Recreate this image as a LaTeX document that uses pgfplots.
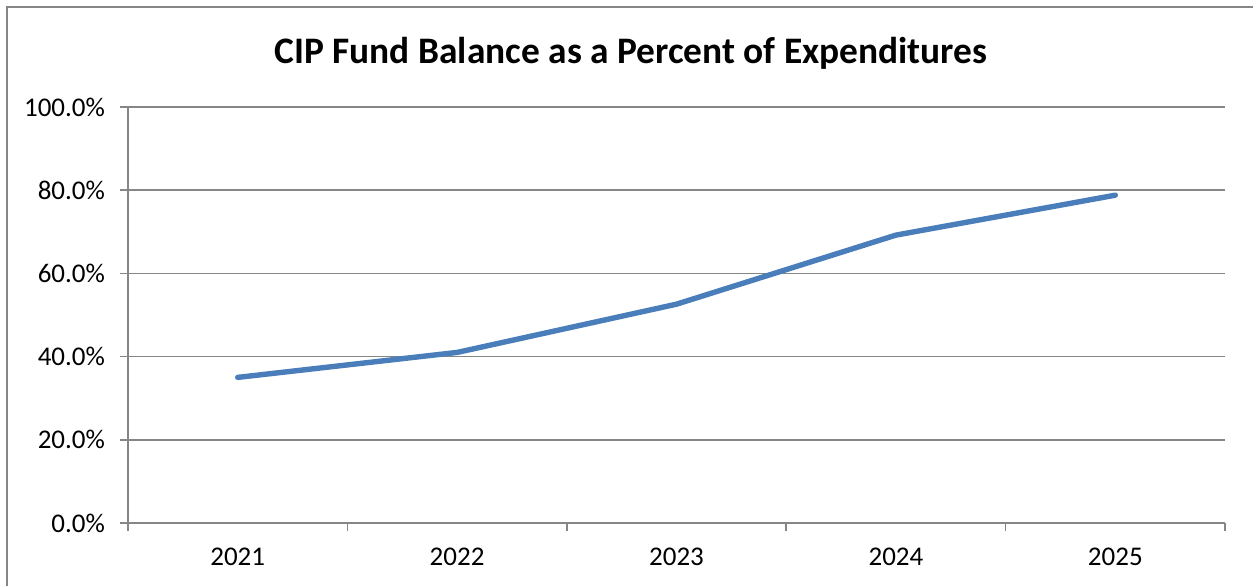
\documentclass[border=0pt]{standalone}
\usepackage{pgfplots}
\pgfplotsset{compat=1.18}
\usepackage{fontspec}
\setmainfont{Carlito}
\definecolor{excelblue}{RGB}{74,126,187}
\definecolor{gridgray}{RGB}{134,134,134}
\begin{document}
\begin{tikzpicture}[x=0.5bp,y=0.5bp]
% picture is 1253 x 586 px, 1 px = 0.5bp
\useasboundingbox (0,0) rectangle (1253,586);
\draw[gridgray, line width=0.75bp] (7,-5) -- (7,579) -- (1260,579);
\node[font=\fontsize{18.7bp}{22bp}\selectfont\bfseries] at (631,533) {CIP Fund Balance as a Percent of Expenditures};
\begin{axis}[
    at={(64bp,31.5bp)}, anchor=origin,
    scale only axis,
    width=548.5bp, height=208bp,
    xmin=0, xmax=5,
    ymin=0, ymax=100,
    axis lines*=left,
    axis line style={gridgray, line width=0.75bp},
    xtick={0.5,1.5,2.5,3.5,4.5},
    xticklabels={2021,2022,2023,2024,2025},
    major x tick style={draw=none},
    minor xtick={0,1,2,3,4,5},
    minor tick length=4bp,
    minor x tick style={gridgray, line width=0.75bp},
    ytick={0,20,40,60,80,100},
    major tick length=4bp,
    tick align=outside,
    y tick style={gridgray, line width=0.75bp},
    ymajorgrids,
    grid style={gridgray, line width=0.75bp},
    yticklabel={\pgfmathprintnumber[fixed,fixed zerofill,precision=1]{\tick}\%},
    /pgf/number format/assume math mode=true,
    tick label style={font=\fontsize{13.5bp}{16bp}\selectfont},
    xticklabel style={yshift=-5bp},
    yticklabel style={xshift=-4bp},
    clip=false,
  ]
  \addplot[excelblue, line width=2.7bp, line cap=round, line join=round]
    coordinates {(0.5,35.0) (1.5,41.0) (2.5,52.6) (3.5,69.2) (4.5,78.8)};
\end{axis}
\end{tikzpicture}
\end{document}
